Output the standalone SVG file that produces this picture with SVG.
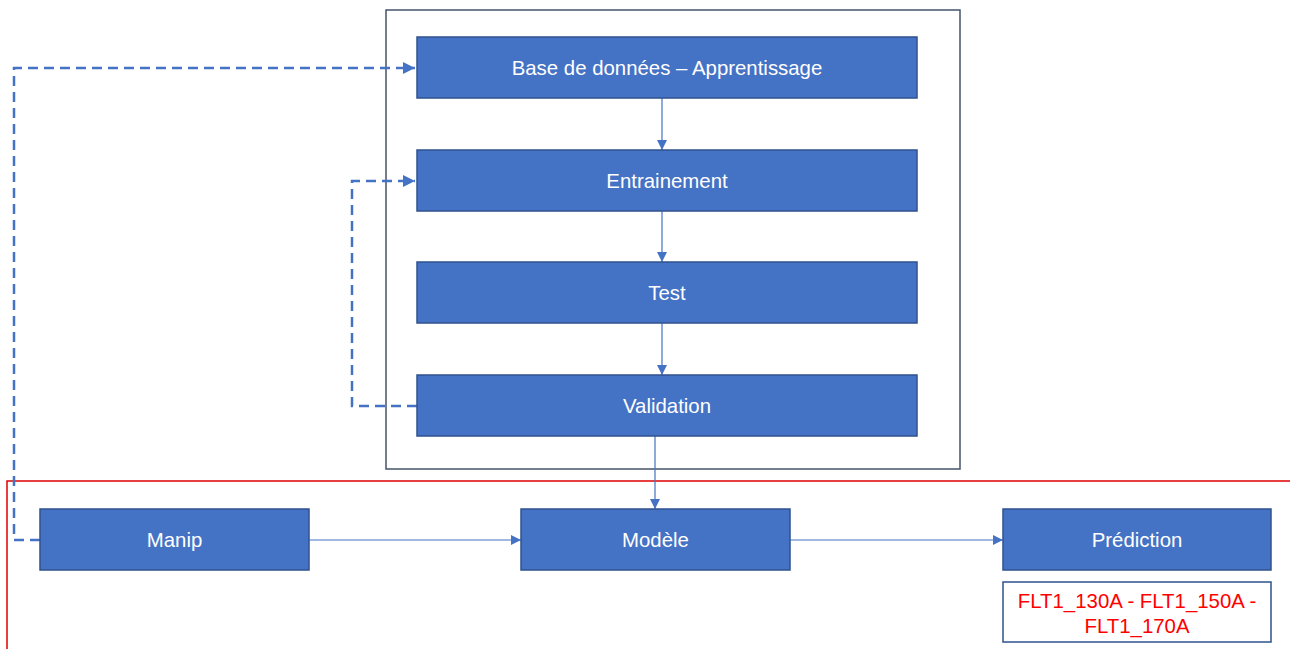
<svg xmlns="http://www.w3.org/2000/svg" width="1290" height="649" viewBox="0 0 1290 649">
<defs>
<style>
.box{fill:#4472C4;stroke:#2F528F;stroke-width:1.5}
.lbl{font-family:"Liberation Sans",Arial,sans-serif;font-size:20.4px;fill:#fff;text-anchor:middle;dominant-baseline:central}
.red{font-family:"Liberation Sans",Arial,sans-serif;font-size:20.4px;fill:#FF0000;text-anchor:middle}
.solid{fill:none;stroke:#4472C4;stroke-width:1.2}
.dash{fill:none;stroke:#4472C4;stroke-width:2.5;stroke-dasharray:10,6}
</style>
<marker id="ah" viewBox="0 0 10 10" refX="10" refY="5" markerWidth="10" markerHeight="10" markerUnits="userSpaceOnUse" orient="auto"><path d="M0,0 L10,5 L0,10 z" fill="#4472C4"/></marker>
<marker id="ahd" viewBox="0 0 10 10" refX="10" refY="5" markerWidth="5" markerHeight="5" orient="auto"><path d="M0,0 L10,5 L0,10 z" fill="#4472C4"/></marker>
</defs>
<rect width="1290" height="649" fill="#fff"/>
<g id="frame"><rect x="386" y="10" width="574" height="459" fill="none" stroke="#44546A" stroke-width="1.5"/></g>
<g id="separator"><path d="M7,649 L7,481 L1290,481" fill="none" stroke="#E00000" stroke-width="1.5"/></g>
<g id="connectors">
<path class="solid" d="M662,98 L662,150" marker-end="url(#ah)"/>
<path class="solid" d="M662,211 L662,262" marker-end="url(#ah)"/>
<path class="solid" d="M662,323 L662,375" marker-end="url(#ah)"/>
<path class="solid" d="M655,436 L655,509" marker-end="url(#ah)"/>
<path class="solid" d="M309,540 L521,540" marker-end="url(#ah)"/>
<path class="solid" d="M790,540 L1003,540" marker-end="url(#ah)"/>
<path class="dash" d="M40,540 L14,540 L14,68 L415,68" marker-end="url(#ahd)"/>
<path class="dash" d="M417,406 L352,406 L352,181 L415,181" marker-end="url(#ahd)"/>
</g>
<g id="n-base"><rect class="box" x="417" y="37" width="500" height="61"/><text class="lbl" x="667" y="68">Base de données – Apprentissage</text></g>
<g id="n-entrainement"><rect class="box" x="417" y="150" width="500" height="61"/><text class="lbl" x="667" y="181">Entrainement</text></g>
<g id="n-test"><rect class="box" x="417" y="262" width="500" height="61"/><text class="lbl" x="667" y="293">Test</text></g>
<g id="n-validation"><rect class="box" x="417" y="375" width="500" height="61"/><text class="lbl" x="667" y="406">Validation</text></g>
<g id="n-manip"><rect class="box" x="40" y="509" width="269" height="61"/><text class="lbl" x="174.5" y="540">Manip</text></g>
<g id="n-modele"><rect class="box" x="521" y="509" width="269" height="61"/><text class="lbl" x="655.5" y="540">Modèle</text></g>
<g id="n-prediction"><rect class="box" x="1003" y="509" width="268" height="61"/><text class="lbl" x="1137" y="540">Prédiction</text></g>
<g id="n-flt"><rect x="1003" y="582" width="268" height="60" fill="#fff" stroke="#2F528F" stroke-width="1.5"/><text class="red" x="1137" y="608">FLT1_130A - FLT1_150A -</text><text class="red" x="1137" y="633">FLT1_170A</text></g>
</svg>
